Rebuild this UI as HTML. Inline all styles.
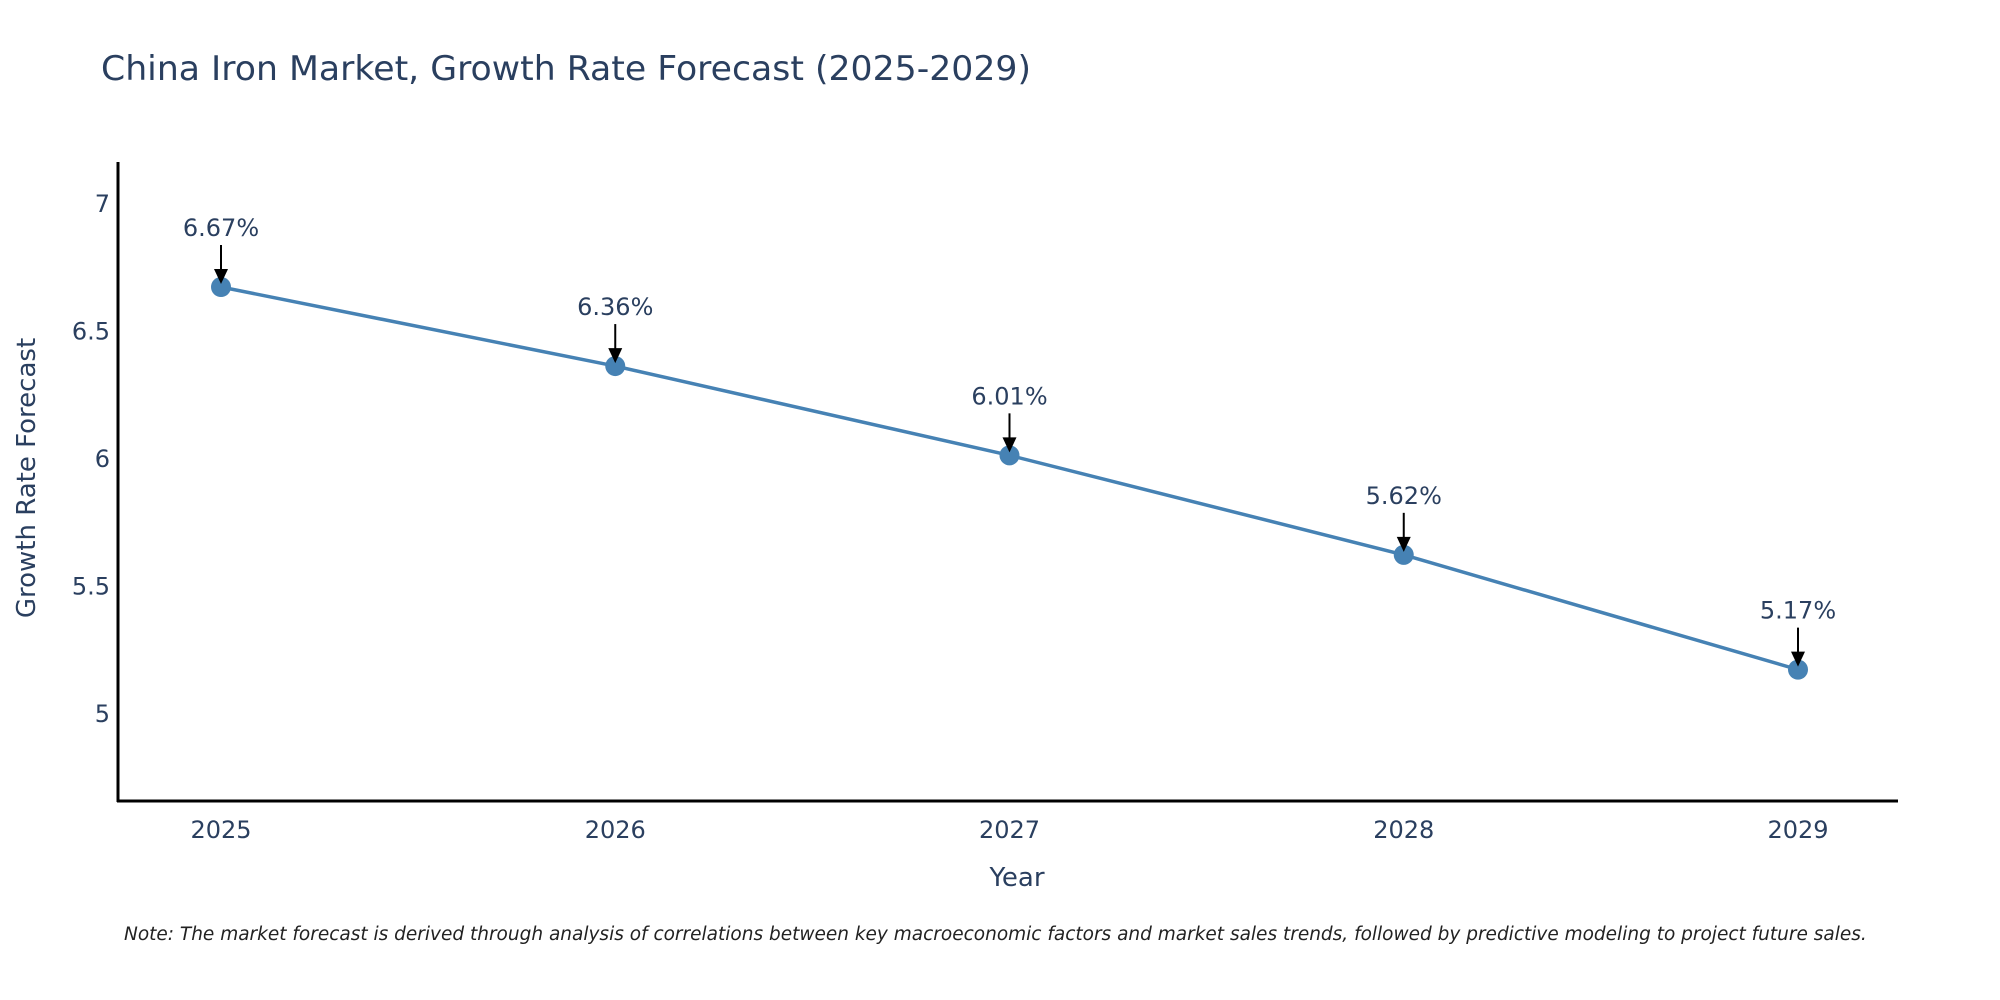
<!DOCTYPE html>
<html><head><meta charset="utf-8"><style>
html,body{margin:0;padding:0;background:#fff;overflow:hidden;}
svg{display:block;font-family:"DejaVu Sans","Liberation Sans",sans-serif;}
</style></head><body>
<svg id="chart" width="2000" height="1000" viewBox="0 0 2000 1000" xmlns="http://www.w3.org/2000/svg">
<rect width="2000" height="1000" fill="#fff"/>
<text x="101" y="80" font-size="34" fill="#2a3f5f" textLength="930" lengthAdjust="spacingAndGlyphs">China Iron Market, Growth Rate Forecast (2025-2029)</text>
<g id="axes"></g>
<g id="series"></g>
<g id="annots"></g>
<text x="1017" y="886" font-size="26" fill="#2a3f5f" text-anchor="middle">Year</text>
<text x="0" y="0" font-size="26" fill="#2a3f5f" text-anchor="middle" transform="translate(35,478) rotate(-90)">Growth Rate Forecast</text>
<text x="124" y="940" font-size="18.5" font-style="italic" fill="#222">Note: The market forecast is derived through analysis of correlations between key macroeconomic factors and market sales trends, followed by predictive modeling to project future sales.</text>
</svg>
<script>
const categories = ["2025","2026","2027","2028","2029"];
const values = [6.67, 6.36, 6.01, 5.62, 5.17];
const valueLabels = ["6.67%","6.36%","6.01%","5.62%","5.17%"];
const yTicks = [5, 5.5, 6, 6.5, 7];
const yTickLabels = ["5","5.5","6","6.5","7"];

const NS = "http://www.w3.org/2000/svg";
const plotL = 118, plotR = 1898, plotT = 162, plotB = 801;
const yMin = 4.655, yMax = 7.16;
const x0 = 221, xStep = 394.25;
function xPos(i){ return x0 + i * xStep; }
function yPos(v){ return plotB - (v - yMin) / (yMax - yMin) * (plotB - plotT); }
function mk(tag, attrs, parent){ const e = document.createElementNS(NS, tag); for (const k in attrs) e.setAttribute(k, attrs[k]); parent.appendChild(e); return e; }

const axes = document.getElementById('axes');
const yl = mk('line', {x1:plotL, y1:plotT, x2:plotL, y2:plotB+1, stroke:'#000', 'stroke-width':3}, axes);


const xl = mk('line', {x1:plotL-1, y1:plotB, x2:plotR, y2:plotB, stroke:'#000', 'stroke-width':3}, axes);


yTicks.forEach((t, i) => {
  const tx = mk('text', {x:plotL-8, y:yPos(t)+9, 'font-size':24, fill:'#2a3f5f', 'text-anchor':'end'}, axes);
  tx.textContent = yTickLabels[i];
  
  
});
categories.forEach((c, i) => {
  const tx = mk('text', {x:xPos(i), y:838, 'font-size':24, fill:'#2a3f5f', 'text-anchor':'middle'}, axes);
  tx.textContent = c;
  
  
});

const series = document.getElementById('series');
const pts = values.map((v, i) => xPos(i) + ',' + yPos(v)).join(' ');
const pl = mk('polyline', {points:pts, fill:'none', stroke:'#4682B4', 'stroke-width':3.5}, series);


values.forEach((v, i) => {
  const c = mk('circle', {cx:xPos(i), cy:yPos(v), r:10, fill:'#4682B4'}, series);
  
  
});

const annots = document.getElementById('annots');
values.forEach((v, i) => {
  const x = xPos(i), y = yPos(v);
  const ln = mk('line', {x1:x, y1:y-42, x2:x, y2:y-16, stroke:'#000', 'stroke-width':2}, annots);
  
  
  const hd = mk('polygon', {points:(x-7)+','+(y-18)+' '+(x+7)+','+(y-18)+' '+x+','+(y-3), fill:'#000'}, annots);
  
  
  const tx = mk('text', {x:x, y:y-51, 'font-size':24, fill:'#2a3f5f', 'text-anchor':'middle'}, annots);
  tx.textContent = valueLabels[i];
  
  
});
</script>
</body></html>
